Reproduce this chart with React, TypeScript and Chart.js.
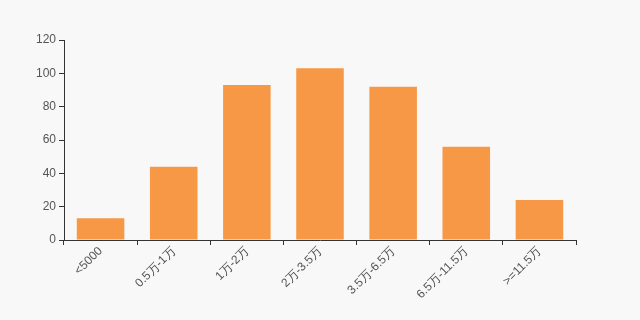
import React, { useEffect, useRef } from "react";
import { Chart, registerables } from "chart.js";

Chart.register(...registerables);

const categories = ["<5000", "0.5万-1万", "1万-2万", "2万-3.5万", "3.5万-6.5万", "6.5万-11.5万", ">=11.5万"];
const values = [13, 44, 93, 103, 92, 56, 24];
const yTicks = [0, 20, 40, 60, 80, 100, 120];

const bgPlugin = {
  id: "bg",
  beforeDraw(chart: any) {
    const ctx = chart.ctx;
    ctx.save();
    ctx.fillStyle = "#f8f8f8";
    ctx.fillRect(0, 0, chart.width, chart.height);
    ctx.restore();
  },
};

export default function App() {
  const ref = useRef<HTMLCanvasElement>(null);
  useEffect(() => {
    document.body.style.margin = "0";
    const chart = new Chart(ref.current!, {
      type: "bar",
      data: {
        labels: categories,
        datasets: [
          {
            data: values,
            backgroundColor: "#f79846",
            barPercentage: 0.65,
            categoryPercentage: 1,
          },
        ],
      },
      options: {
        animation: false,
        responsive: false,
        layout: { padding: { top: 40, right: 64, left: 0, bottom: 0 } },
        plugins: { legend: { display: false }, tooltip: { enabled: false } },
        scales: {
          x: {
            offset: true,
            grid: { offset: true, drawOnChartArea: false, tickLength: 5, color: "#333" },
            border: { color: "#333" },
            ticks: {
              minRotation: 45,
              maxRotation: 45,
              autoSkip: false,
              color: "#555",
              font: { family: "'Liberation Sans', Arial, sans-serif", size: 12 },
              padding: -1,
            },
            afterFit: (s: any) => { s.height = 80; },
          },
          y: {
            min: 0,
            max: 120,
            afterBuildTicks: (s: any) => { s.ticks = yTicks.map((v) => ({ value: v })); },
            grid: { drawOnChartArea: false, tickLength: 5, color: "#333" },
            border: { color: "#333" },
            ticks: {
              color: "#555",
              font: { family: "'Liberation Sans', Arial, sans-serif", size: 12 },
              padding: 3,
            },
            afterFit: (s: any) => { s.width = 64; },
          },
        },
      },
      plugins: [bgPlugin],
    });
    return () => chart.destroy();
  }, []);
  return <canvas ref={ref} width={640} height={320} style={{ display: "block" }} />;
}
